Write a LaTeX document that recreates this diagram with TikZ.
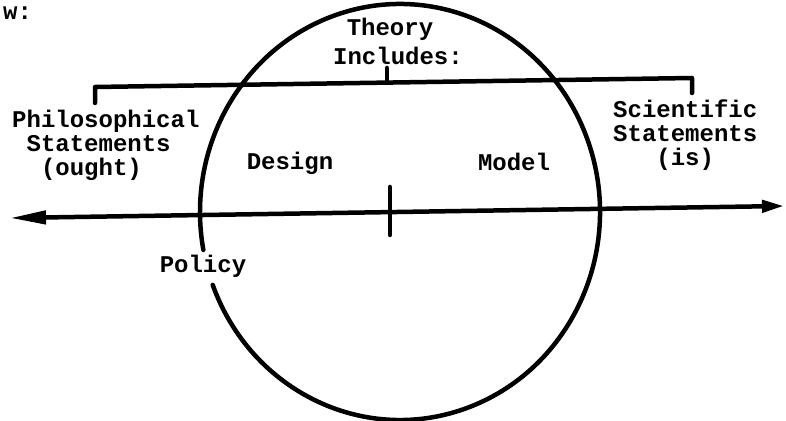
\documentclass[tikz,border=0pt]{standalone}
\usepackage{fontspec}
\setmonofont{Liberation Mono}
\usetikzlibrary{arrows.meta}
\begin{document}
\begin{tikzpicture}[x=1pt,y=1pt,
  lbl/.style={font=\ttfamily\bfseries\fontsize{24}{24}\selectfont, inner sep=0pt},
  ln/.style={line width=4.5pt, line cap=round, line join=round}]
\useasboundingbox (0,0) rectangle (786,420);
% circle with gap near Policy
\draw[ln] (400,208) ++(200.5:200 and 208) arc[start angle=200.5, end angle=550.5, x radius=200, y radius=208];
% main axis
\coordinate (axL) at (10,202);
\coordinate (axR) at (784,214);
\draw[ln, line cap=butt, {Triangle[length=36pt,width=13pt]}-{Triangle[length=22pt,width=12pt]}] (axL) -- (axR);
% centre tick
\coordinate (tkT) at (390,233);
\coordinate (tkB) at (390,185);
\draw[ln] (tkT) -- (tkB);
% bracket
\coordinate (brL) at (95,333);
\coordinate (brLd) at (95,317);
\coordinate (brR) at (692,342);
\coordinate (brRd) at (692,327);
\coordinate (brM) at (387,337.6);
\coordinate (brMu) at (387,352);
\draw[ln] (brLd) -- (brL) -- (brR) -- (brRd);
\draw[ln] (brM) -- (brMu);
% texts
\node[lbl, anchor=base west] (w) at (3,400) {w:};
\node[lbl] (th) at (390,391) {Theory};
\node[lbl] (inc) at (398,364) {Includes:};
\node[lbl, align=left, anchor=north west] (ph) at (12,310)
  {Philosophical\\\hspace*{14.4pt}Statements\\\hspace*{28.8pt}(ought)};
\node[lbl, align=left, anchor=north west] (sc) at (613,320)
  {Scientific\\Statements\\\hspace*{43.2pt}(is)};
\node[lbl] (des) at (290,257) {Design};
\node[lbl] (mod) at (514,258) {Model};
\node[lbl] (pol) at (203,154) {Policy};
\end{tikzpicture}
\end{document}
